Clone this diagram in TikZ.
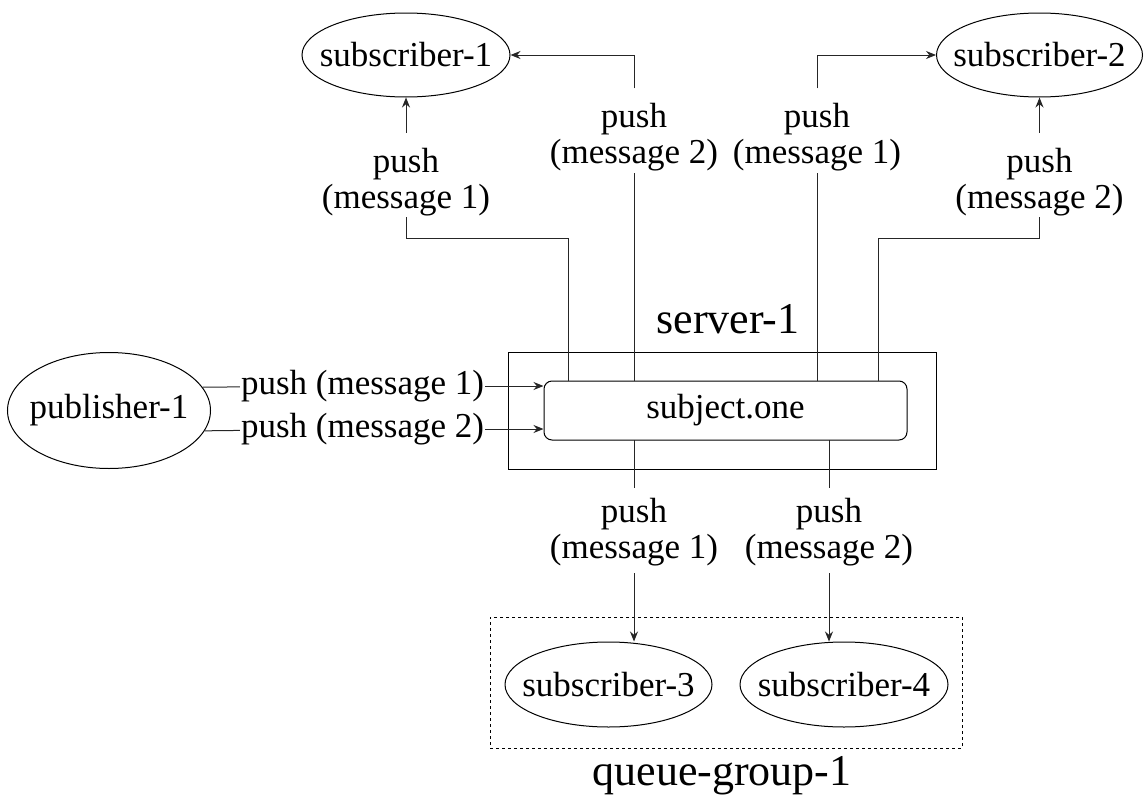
\documentclass[tikz,border=0pt]{standalone}
\usepackage{fontspec}
\setmainfont{Liberation Serif}
\usetikzlibrary{shapes.geometric,arrows.meta}
\begin{document}
\begin{tikzpicture}[x=1pt,y=-1pt,
  every node/.style={font=\fontsize{35}{36}\selectfont},
  conn/.style={line width=1pt, draw=black!85},
  arr/.style={conn,-{Stealth[length=10pt,width=8pt]}},
  actor/.style={ellipse, draw, line width=1pt, inner sep=0pt},
  lbl/.style={align=center, inner xsep=2pt, inner ysep=0pt},
  inlbl/.style={inner xsep=1pt, inner ysep=2pt},
  big/.style={font=\fontsize{44}{50}\selectfont}]
\useasboundingbox (0,0) rectangle (1144,798);

% clients (text boxes of zero width so the ellipse size is fixed)
\node[actor, minimum width=208pt, minimum height=84pt] (sub1) at (406,55) {\makebox[0pt]{subscriber-1}};
\node[actor, minimum width=206pt, minimum height=84pt] (sub2) at (1039.5,55) {\makebox[0pt]{subscriber-2}};
\node[actor, minimum width=203pt, minimum height=116pt] (pub) at (109,410.5) {\makebox[0pt]{publisher-1}};
\node[actor, minimum width=207pt, minimum height=85pt] (sub3) at (608.5,684.5) {\makebox[0pt]{subscriber-3}};
\node[actor, minimum width=208pt, minimum height=85pt] (sub4) at (844,684.5) {\makebox[0pt]{subscriber-4}};

% server with its subject
\node[draw, line width=1pt, minimum width=428pt, minimum height=117pt] (server) at (722,410.5) {};
\node[big] (srvlbl) at (728,319) {server-1};
\node[draw, line width=1pt, rounded corners=8pt, minimum width=363pt, minimum height=59pt] (subj) at (725.5,410.5) {subject.one};

% queue group
\node[draw, line width=0.8pt, dash pattern=on 3pt off 3pt, minimum width=472pt, minimum height=131pt] (qg) at (726,682.5) {};
\node[big] (qglbl) at (722,776) {queue-group-1};

% ports on the subject and bends
\coordinate (t1) at (568,381);
\coordinate (t2) at (634,381);
\coordinate (t3) at (817,381);
\coordinate (t4) at (878,381);
\coordinate (b1) at (634,440);
\coordinate (b2) at (829,440);
\coordinate (k1) at (406,238);
\coordinate (k4) at (1039.5,238);

% connector labels
\node[lbl] (lab1) at (406,182) {push\\(message 1)};
\node[lbl] (lab2) at (634,137.5) {push\\(message 2)};
\node[lbl] (lab3) at (817,137.5) {push\\(message 1)};
\node[lbl] (lab4) at (1039.5,182) {push\\(message 2)};
\node[lbl] (lab5) at (634,532) {push\\(message 1)};
\node[lbl] (lab6) at (829,532) {push\\(message 2)};
\node[inlbl] (pm1) at (362.5,386) {push (message 1)};
\node[inlbl] (pm2) at (362.5,429) {push (message 2)};

% publisher to subject
\draw[conn] (pub.14.5) -- (pm1);
\draw[arr] (pm1) -- (pm1 -| subj.west);
\draw[conn] (pub.-12) -- (pm2);
\draw[arr] (pm2) -- (pm2 -| subj.west);

% subject to subscribers
\draw[conn] (t1) |- (k1) -- ([yshift=-1pt]lab1.south);
\draw[arr] ([yshift=15pt]lab1.north) -- (sub1.south);
\draw[conn] (t2) -- ([yshift=-1.5pt]lab2.south);
\draw[arr] ([yshift=15pt]lab2.north) |- (sub1.east);
\draw[conn] (t3) -- ([yshift=-1.5pt]lab3.south);
\draw[arr] ([yshift=15pt]lab3.north) |- (sub2.west);
\draw[conn] (t4) |- (k4) -- ([yshift=-1pt]lab4.south);
\draw[arr] ([yshift=15pt]lab4.north) -- (sub2.south);

% subject to queue group members
\draw[conn] (b1) -- ([yshift=10pt]lab5.north);
\draw[arr] ([yshift=-7pt]lab5.south) -- (lab5.south |- sub3.north);
\draw[conn] (b2) -- ([yshift=10pt]lab6.north);
\draw[arr] ([yshift=-7pt]lab6.south) -- (lab6.south |- sub4.north);
\end{tikzpicture}
\end{document}
